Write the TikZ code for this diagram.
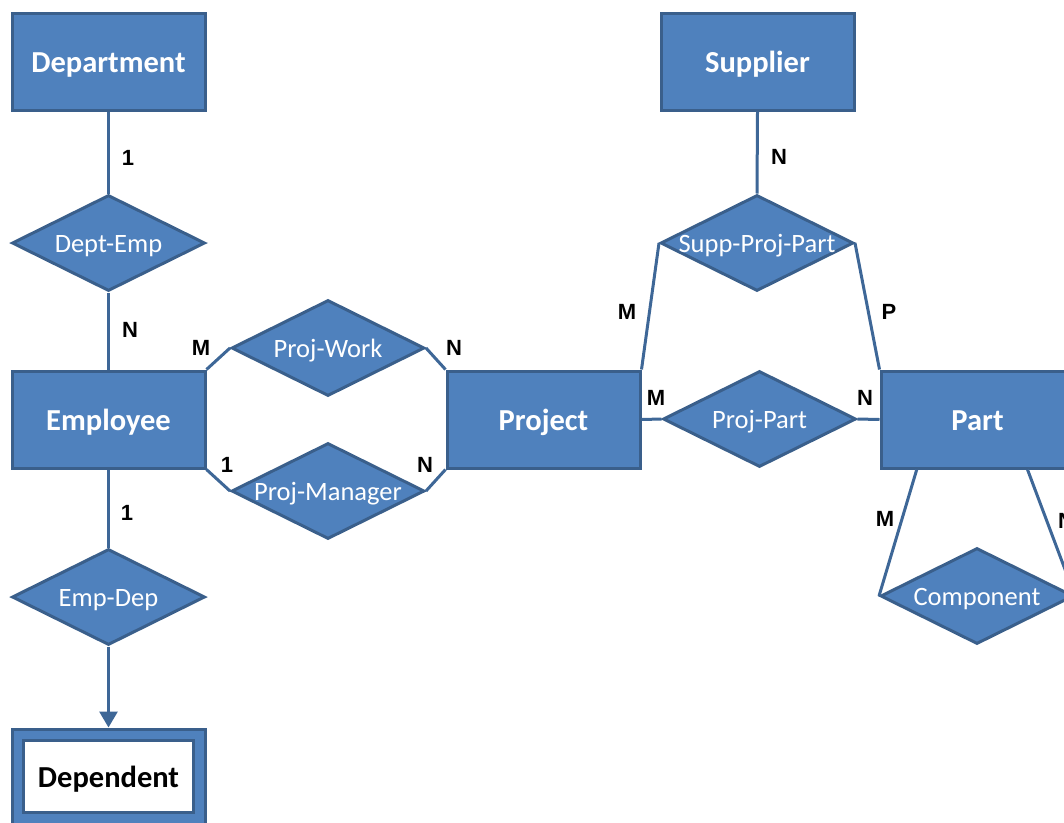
\documentclass[tikz,border=0pt]{standalone}
\usepackage{fontspec}
\setmainfont{Carlito}
\newfontfamily\cardfont{Liberation Sans}
\usetikzlibrary{shapes.geometric,arrows.meta,calc}
\definecolor{erfill}{HTML}{4F81BD}
\definecolor{erborder}{HTML}{3A5F8B}
\definecolor{erline}{HTML}{3E6797}
\tikzset{
  entity/.style={rectangle, draw=erborder, fill=erfill, line width=3pt,
    minimum width=193pt, minimum height=97pt, inner sep=0pt,
    text height=21pt, text depth=0pt,
    text=white, font=\fontsize{30.5}{33}\selectfont\bfseries},
  relation/.style={diamond, draw=erborder, fill=erfill, line width=3pt,
    minimum width=193pt, minimum height=96pt, inner sep=0pt,
    text height=18pt, text depth=0pt,
    text=white, font=\fontsize{26.5}{29}\selectfont},
  conn/.style={draw=erline, line width=3pt},
  card/.style={font=\cardfont\fontsize{22}{24}\selectfont\bfseries, text=black, inner sep=0pt},
}
\newcommand{\rtext}[1]{\makebox[0pt]{#1}}
\begin{document}
\begin{tikzpicture}[x=1pt,y=-1pt]
\useasboundingbox (0,0) rectangle (1064,822);

% entities
\node[entity] (department) at (108.5,61.5) {Department};
\node[entity] (employee) at (108.5,419.5) {Employee};
\node[entity] (project) at (543.5,419.5) {Project};
\node[entity] (supplier) at (757.5,61.5) {Supplier};
\node[entity] (part) at (977.5,419.5) {Part};

% weak entity: double box
\node[entity] (dependent) at (108.5,777.5) {};
\node[rectangle, draw=erborder, fill=white, line width=3pt,
      minimum width=170pt, minimum height=72pt, inner sep=0pt,
      text height=21pt, text depth=0pt,
      font=\fontsize{30.5}{33}\selectfont\bfseries] (dependentin) at (108.5,776.5) {Dependent};

% relationships
\node[relation] (deptemp) at (108.5,243) {\rtext{Dept-Emp}};
\node[relation] (projwork) at (328,348) {\rtext{Proj-Work}};
\node[relation] (projmgr) at (328,491) {\rtext{Proj-Manager}};
\node[relation] (empdep) at (108.5,597) {\rtext{Emp-Dep}};
\node[relation] (supp) at (757,243) {\rtext{Supp-Proj-Part}};
\node[relation] (projpart) at (759.5,419) {\rtext{Proj-Part}};
\node[relation] (component) at (977,596) {\rtext{Component}};

% connectors
\draw[conn] (department.south) -- (deptemp.north);
\draw[conn] (deptemp.south) -- (employee.north);
\draw[conn] (employee.north east) -- (projwork.west);
\draw[conn] (projwork.east) -- (project.north west);
\draw[conn] (employee.south east) -- (projmgr.west);
\draw[conn] (projmgr.east) -- (project.south west);
\draw[conn] (employee.south) -- (empdep.north);
\draw[conn, -{Triangle[width=18pt,length=16pt]}] (empdep.south) -- (dependent.north);
\draw[conn] (supplier.south) -- (supp.north);
\draw[conn] (supp.west) -- (project.north east);
\draw[conn] (supp.east) -- (part.north west);
\draw[conn] (project.east) -- (projpart.west);
\draw[conn] (projpart.east) -- (part.west);
\draw[conn] ($(part.south west)!0.19!(part.south east)$) -- (component.west);
\draw[conn] ($(part.south west)!0.755!(part.south east)$) -- (component.east);

% cardinalities
\node[card] (c1) at (128,158) {1};
\node[card] (c2) at (130,330) {N};
\node[card] (c3) at (201,348) {M};
\node[card] (c4) at (454,348) {N};
\node[card] (c5) at (227,465) {1};
\node[card] (c6) at (425,465) {N};
\node[card] (c7) at (127,513) {1};
\node[card] (c8) at (779,157) {N};
\node[card] (c9) at (627,312) {M};
\node[card] (c10) at (889,312) {P};
\node[card] (c11) at (656,398) {M};
\node[card] (c12) at (865,398) {N};
\node[card] (c13) at (885,519) {M};
\node[card] (c14) at (1066,521) {N};
\end{tikzpicture}
\end{document}
